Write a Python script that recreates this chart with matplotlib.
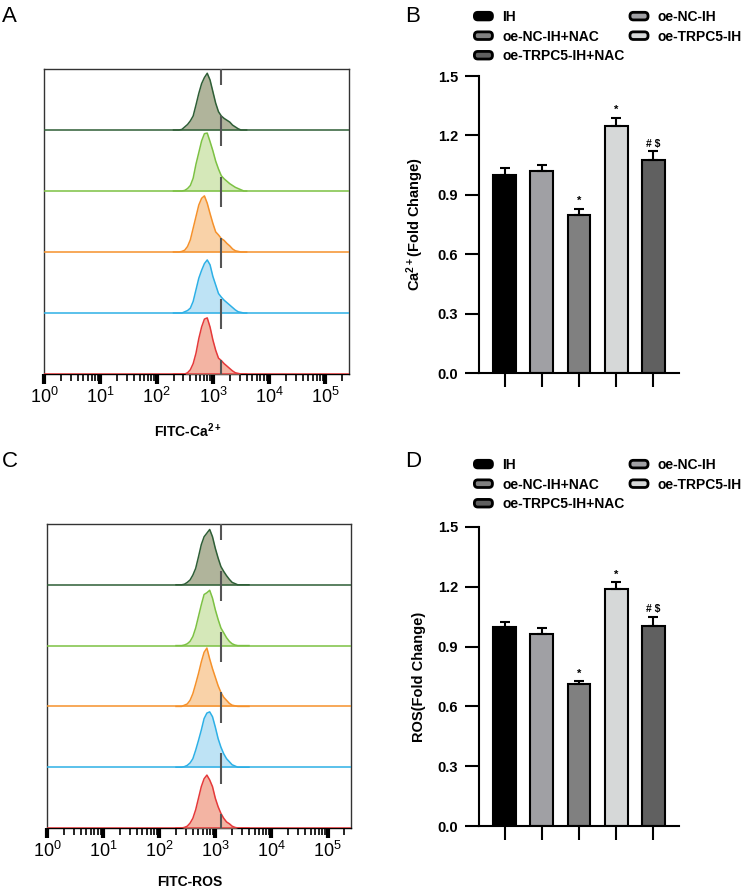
import numpy as np
import matplotlib
matplotlib.use('Agg')
import matplotlib.pyplot as plt
import matplotlib.patches as mpatches
from matplotlib.patches import FancyBboxPatch
from matplotlib.legend_handler import HandlerPatch
from matplotlib.ticker import FixedLocator, LogLocator, FuncFormatter, NullFormatter

plt.rcParams['font.family'] = ['Liberation Sans', 'DejaVu Sans']
plt.rcParams['mathtext.fontset'] = 'custom'
plt.rcParams['mathtext.rm'] = 'Liberation Sans'
plt.rcParams['mathtext.bf'] = 'Liberation Sans:bold'
plt.rcParams['mathtext.it'] = 'Liberation Sans:italic'

# ---------------- data ----------------
groups = ['IH', 'oe-NC-IH', 'oe-NC-IH+NAC', 'oe-TRPC5-IH', 'oe-TRPC5-IH+NAC']
bar_colors = ['#000000', '#a0a0a4', '#808080', '#d6d8d8', '#606060']

ca_mean = [1.00, 1.02, 0.80, 1.25, 1.075]
ca_err = [0.035, 0.03, 0.03, 0.04, 0.045]
ca_sig = ['', '', '*', '*', '# $']

ros_mean = [1.00, 0.965, 0.71, 1.19, 1.005]
ros_err = [0.025, 0.03, 0.015, 0.035, 0.045]
ros_sig = ['', '', '*', '*', '# $']

yticks_bar = [0.0, 0.3, 0.6, 0.9, 1.2, 1.5]

# flow histograms: log10 FITC intensity grid and counts (% of mode), top track first
fitc_log10 = [2.30, 2.35, 2.40, 2.45, 2.50, 2.55, 2.60, 2.65, 2.70, 2.75, 2.80, 2.85, 2.90,
              2.95, 3.00, 3.05, 3.10, 3.15, 3.20, 3.25, 3.30, 3.35, 3.40, 3.45, 3.50, 3.55, 3.60]

ca_track1 = [0, 0, 0, 1, 5, 9, 15, 23, 41, 60, 76, 86, 93, 82, 63, 44, 30, 23, 19, 16, 13, 8, 5, 2, 0, 0, 0]
ca_track2 = [0, 0, 0, 0, 1, 4, 9, 21, 44, 63, 82, 94, 95, 81, 66, 49, 36, 25, 20, 16, 12, 9, 6, 4, 2, 0, 0]
ca_track3 = [0, 0, 0, 1, 3, 9, 20, 39, 58, 77, 88, 92, 80, 63, 47, 33, 28, 22, 19, 14, 10, 5, 2, 1, 0, 0, 0]
ca_track4 = [0, 0, 0, 0, 2, 4, 8, 19, 38, 57, 70, 81, 87, 79, 60, 46, 32, 26, 21, 17, 13, 9, 5, 2, 1, 0, 0]
ca_track5 = [0, 0, 0, 0, 0, 2, 7, 17, 34, 58, 77, 90, 92, 77, 56, 39, 26, 22, 17, 13, 9, 5, 2, 1, 0, 0, 0]

ros_track1 = [0, 0, 0, 1, 4, 8, 16, 27, 46, 66, 79, 85, 91, 79, 60, 44, 30, 22, 15, 9, 4, 2, 0, 0, 0, 0, 0]
ros_track2 = [0, 0, 0, 1, 3, 7, 15, 29, 48, 67, 84, 87, 91, 78, 59, 43, 29, 21, 13, 7, 3, 1, 0, 0, 0, 0, 0]
ros_track3 = [0, 0, 0, 2, 4, 10, 21, 37, 54, 73, 89, 96, 78, 62, 48, 34, 23, 15, 10, 5, 2, 1, 0, 0, 0, 0, 0]
ros_track4 = [0, 0, 0, 1, 3, 7, 14, 28, 44, 61, 80, 89, 91, 83, 66, 47, 33, 22, 14, 9, 4, 2, 0, 0, 0, 0, 0]
ros_track5 = [0, 0, 0, 1, 3, 8, 16, 30, 49, 68, 81, 87, 79, 68, 49, 35, 24, 16, 10, 7, 3, 1, 0, 0, 0, 0, 0]

ca_gate = 1410
ros_gate = 1260

line_colors = ['#2e5e36', '#7cc143', '#f5912b', '#2db0e6', '#e5393a']
fill_colors = ['#b0b49b', '#d5e8b9', '#f9d2a8', '#bee3f5', '#f3b4a3']

# ---------------- figure ----------------
W, H = 750, 889
fig = plt.figure(figsize=(W / 100, H / 100), dpi=100)


def frac_rect(x0, x1, ytop, ybot):
    return [x0 / W, 1 - ybot / H, (x1 - x0) / W, (ybot - ytop) / H]


def hist_panel(ax, tracks, gate, xlabel):
    x = 10 ** np.array(fitc_log10)
    n = len(tracks)
    for i, counts in enumerate(tracks):
        base = n - 1 - i
        y = base + np.array(counts) / 100.0
        ax.fill_between(x, base, y, color=fill_colors[i], lw=0, zorder=2 + i)
        ax.plot(x, y, color=line_colors[i], lw=1.1, zorder=3 + i)
        ax.axhline(base, color=line_colors[i], lw=1.1, zorder=3 + i)
    for k in range(n + 1):
        ax.vlines(gate, k - 0.27, k + 0.23, color='#555555', lw=1.5, zorder=20)
    ax.set_xscale('log')
    ax.set_xlim(1, 262144)
    ax.set_ylim(0, n)
    ax.set_yticks([])
    ax.xaxis.set_major_locator(FixedLocator([1, 10, 100, 1e3, 1e4, 1e5]))
    ax.xaxis.set_major_formatter(FuncFormatter(
        lambda v, p: r'$\mathregular{10^{%d}}$' % int(round(np.log10(v)))))
    ax.xaxis.set_minor_locator(LogLocator(base=10, subs=np.arange(2, 10), numticks=30))
    ax.xaxis.set_minor_formatter(NullFormatter())
    ax.tick_params(axis='x', which='major', length=7, width=3, direction='out',
                   labelsize=13, pad=2, color='black')
    ax.tick_params(axis='x', which='minor', length=5, width=1.2, direction='out', color='black')
    for s in ax.spines.values():
        s.set_color('#333333')
        s.set_linewidth(1.0)
    ax.spines['bottom'].set_color('black')
    ax.set_xlabel(xlabel, fontsize=10, fontweight='bold', va='top')
    ax.xaxis.set_label_coords(0.47, -0.155)


class RoundHandler(HandlerPatch):
    def create_artists(self, legend, orig_handle, xdescent, ydescent, width, height,
                       fontsize, trans):
        p = FancyBboxPatch((-xdescent + 1, -ydescent + 0.5), width - 2, height - 1,
                           boxstyle='round,pad=0,rounding_size=2.5',
                           facecolor=orig_handle.get_facecolor(), edgecolor='black',
                           lw=2.0, transform=trans)
        return [p]


def bar_panel(ax, means, errs, sigs, ylabel, leg_top):
    xpos = np.arange(len(groups))
    ax.bar(xpos, means, width=0.62, color=bar_colors, edgecolor='black',
           linewidth=1.5, zorder=2)
    ax.errorbar(xpos, means, yerr=[np.zeros(len(means)), errs], fmt='none',
                ecolor='black', elinewidth=1.5, capsize=3.6, capthick=1.5, zorder=3)
    for i, s in enumerate(sigs):
        if s:
            ax.text(xpos[i], means[i] + errs[i] + 0.012, s, ha='center', va='bottom',
                    fontsize=7.5 if s != '*' else 8, fontweight='bold')
    ax.set_xlim(-0.7, 4.7)
    ax.set_ylim(0, 1.5)
    ax.set_yticks(yticks_bar)
    ax.set_yticklabels(['%.1f' % v for v in yticks_bar], fontsize=10.5, fontweight='bold')
    ax.set_xticks(xpos)
    ax.set_xticklabels([''] * len(xpos))
    ax.tick_params(axis='both', length=10, width=1.5, direction='out', pad=5)
    for s in ['top', 'right']:
        ax.spines[s].set_visible(False)
    for s in ['left', 'bottom']:
        ax.spines[s].set_linewidth(1.5)
    ax.set_ylabel(ylabel, fontsize=10.5, fontweight='bold')
    ax.yaxis.set_label_coords(-0.265, 0.5)

    handles = [mpatches.Patch(facecolor=c, edgecolor='black', label=g)
               for c, g in zip(bar_colors, groups)]
    order = [0, 2, 4, 1, 3]
    fig.legend([handles[i] for i in order], [groups[i] for i in order],
               loc='upper left', bbox_to_anchor=(473 / W, 1 - leg_top / H),
               bbox_transform=fig.transFigure, ncol=2, frameon=False,
               borderpad=0, borderaxespad=0, handlelength=1.5, handleheight=0.62,
               handletextpad=0.6, columnspacing=0.3, labelspacing=0.4,
               prop={'weight': 'bold', 'size': 10},
               handler_map={mpatches.Patch: RoundHandler()})


axA = fig.add_axes(frac_rect(44, 349, 69, 374))
hist_panel(axA, [ca_track1, ca_track2, ca_track3, ca_track4, ca_track5], ca_gate,
           r'FITC-Ca$^{\mathbf{2+}}$')

axC = fig.add_axes(frac_rect(47, 351, 524, 828))
hist_panel(axC, [ros_track1, ros_track2, ros_track3, ros_track4, ros_track5], ros_gate,
           'FITC-ROS')

axB = fig.add_axes(frac_rect(479, 679, 76, 373))
bar_panel(axB, ca_mean, ca_err, ca_sig, r'Ca$^{\mathbf{2+}}$(Fold Change)', 10)

axD = fig.add_axes(frac_rect(479, 679, 527, 826))
bar_panel(axD, ros_mean, ros_err, ros_sig, 'ROS(Fold Change)', 458)

for letter, x, y in [('A', 2, 6), ('B', 405, 6), ('C', 2, 451), ('D', 405, 451)]:
    fig.text(x / W, 1 - y / H, letter, fontsize=16, ha='left', va='top')

fig.savefig('out.png', dpi=100)
